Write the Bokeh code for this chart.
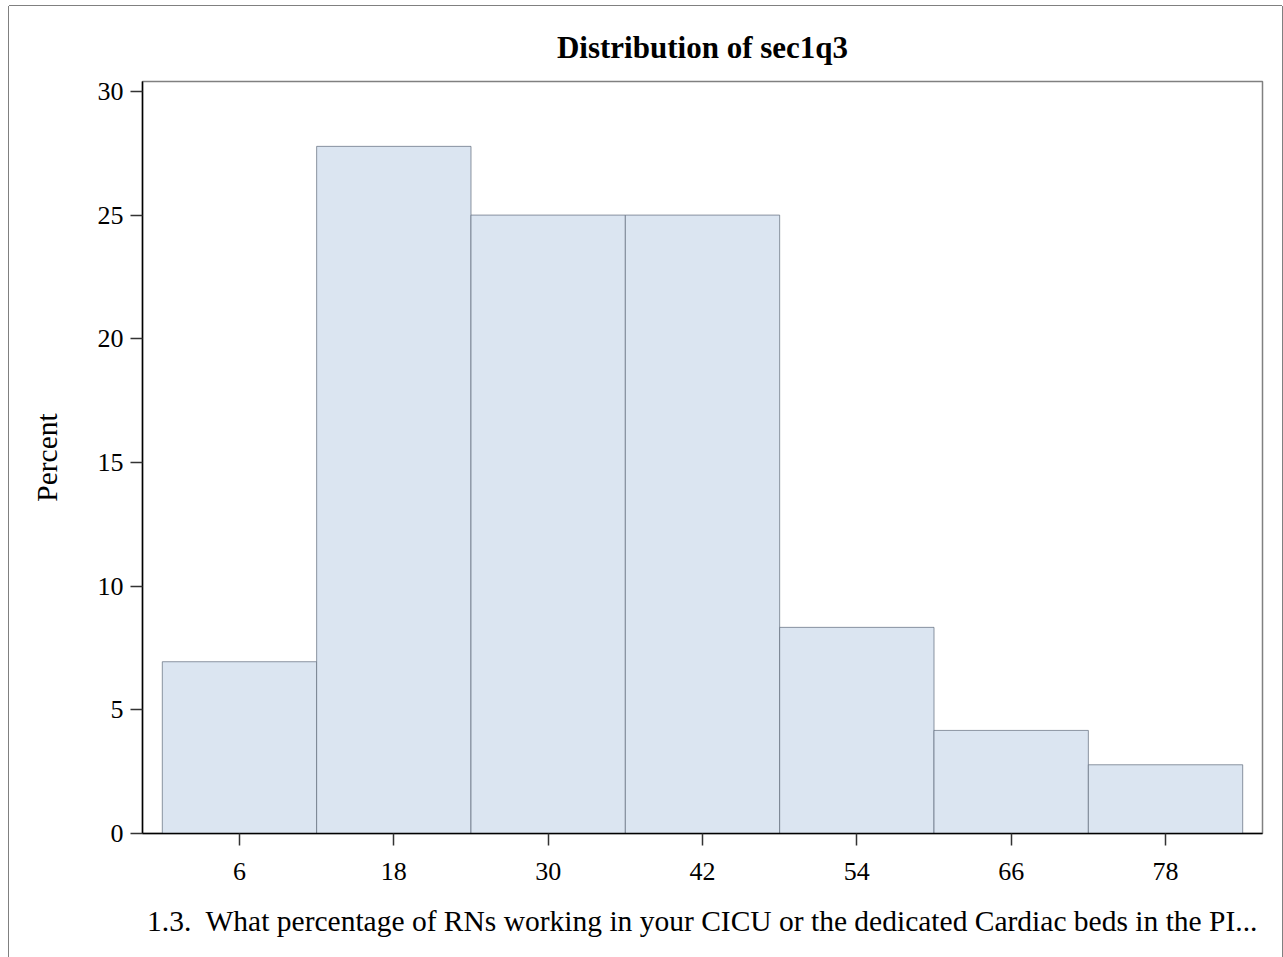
from bokeh.plotting import figure
from bokeh.models import Range1d, FixedTicker, ColumnDataSource
from bokeh.embed import file_html
from bokeh.resources import INLINE

# Data: histogram of sec1q3 (bin width 12, midpoints 6..78)
bin_mid = [6, 18, 30, 42, 54, 66, 78]
bin_width = 12
percent = [6.944, 27.778, 25.0, 25.0, 8.333, 4.167, 2.778]
y_ticks = [0, 5, 10, 15, 20, 25, 30]
x_ticks = [6, 18, 30, 42, 54, 66, 78]

title_text = "Distribution of sec1q3"
x_label = "1.3.\u00a0 What percentage of RNs working in your CICU or the dedicated Cardiac beds in the PI..."
y_label = "Percent"

FONT = "Liberation Serif"

src = ColumnDataSource(dict(
    left=[m - bin_width / 2 for m in bin_mid],
    right=[m + bin_width / 2 for m in bin_mid],
    top=percent,
))

p = figure(
    width=1273, height=951,
    output_backend="svg", toolbar_location=None,
    x_range=Range1d(-1.54, 85.54), y_range=Range1d(0, 30.4),
    min_border_left=133, min_border_right=20, min_border_top=75, min_border_bottom=124,
    styles={"margin-left": "9px", "margin-top": "6px",
            "box-shadow": "0 -1px 0 0 #808080, -1px 0 0 0 #808080, 1px 0 0 0 #808080"},
)

p.quad(left="left", right="right", bottom=0, top="top", source=src,
       fill_color="#DBE5F1", line_color="#5f6b7a", line_alpha=0.7, line_width=1)

p.title.text = title_text
p.title.align = "center"
p.title.text_font = FONT
p.title.text_font_size = "31px"
p.title.text_font_style = "bold"
p.title.text_color = "black"
p.title.standoff = 33

p.grid.visible = False
p.outline_line_color = "#808080"
p.outline_line_width = 1.5
p.background_fill_color = "white"
p.border_fill_color = "white"

for ax in (p.xaxis[0], p.yaxis[0]):
    ax.axis_line_color = "black"
    ax.axis_line_width = 1.5
    ax.major_tick_line_color = "#333333"
    ax.major_tick_line_width = 1.5
    ax.major_tick_out = 12
    ax.major_tick_in = 0
    ax.minor_tick_line_color = None
    ax.major_label_text_font = FONT
    ax.major_label_text_font_size = "26px"
    ax.major_label_text_color = "black"
    ax.axis_label_text_font = FONT
    ax.axis_label_text_font_size = "29.5px"
    ax.axis_label_text_font_style = "normal"
    ax.axis_label_text_color = "black"

p.xaxis.ticker = FixedTicker(ticks=x_ticks)
p.yaxis.ticker = FixedTicker(ticks=y_ticks)
p.xaxis.axis_label = x_label
p.yaxis.axis_label = y_label
p.xaxis.major_label_standoff = 17
p.yaxis.major_label_standoff = 7
p.xaxis.axis_label_standoff = 22
p.yaxis.axis_label_standoff = 32

open("out.html", "w").write(file_html(p, INLINE))
